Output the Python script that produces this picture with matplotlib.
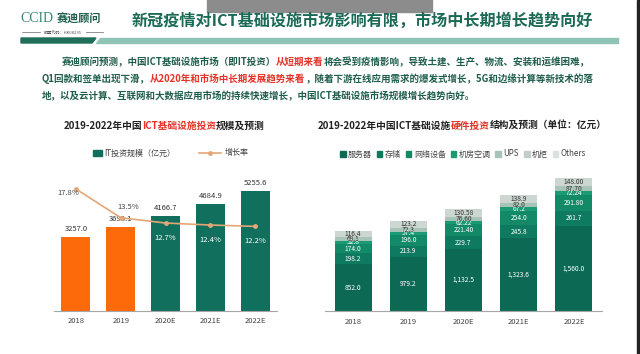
import matplotlib.pyplot as plt
from matplotlib.patches import Rectangle, Polygon, Patch
from matplotlib.lines import Line2D

plt.rcParams['font.family'] = ['Noto Sans CJK SC', 'DejaVu Sans']

W, H = 640, 354

# 左图：IT投资规模及增长率
years = ['2018', '2019', '2020E', '2021E', '2022E']
it_invest = [3257.0, 3698.1, 4166.7, 4684.9, 5255.6]
growth = [17.8, 13.5, 12.7, 12.4, 12.2]

# 右图：硬件投资结构（亿元）
legend_names = ['服务器', '存储', '网络设备', '机房空调', 'UPS', '机柜', 'Others']
server = [852.0, 979.2, 1132.5, 1323.6, 1560.0]
storage = [198.2, 213.9, 229.7, 245.8, 261.7]
network = [174.0, 196.0, 221.40, 254.0, 291.80]
aircon = [52.8, 57.4, 62.22, 67.2, 72.24]
ups = [68.1, 72.3, 76.60, 82.0, 87.70]
others = [116.4, 123.2, 130.58, 138.9, 148.00]

server_lbl = ['852.0', '979.2', '1,132.5', '1,323.6', '1,560.0']
storage_lbl = ['198.2', '213.9', '229.7', '245.8', '261.7']
network_lbl = ['174.0', '196.0', '221.40', '254.0', '291.80']
aircon_lbl = ['52.8', '57.4', '62.22', '67.2', '72.24']
ups_lbl = ['68.1', '72.3', '76.60', '82.0', '87.70']
others_lbl = ['116.4', '123.2', '130.58', '138.9', '148.00']

GREEN = '#10705d'
ORANGE = '#fd6a0a'
LINE = '#e5a677'
TITLE_GREEN = '#1b6a56'
TEXT_GREEN = '#1f5e4c'
RED = '#e5332a'

fig = plt.figure(figsize=(W / 100, H / 100), dpi=100)
fig.patch.set_facecolor('white')
renderer = fig.canvas.get_renderer()


def fx(x):
    return x / W


def fy(y):
    return 1 - y / H


def seg_text(x, y, parts, size, weight='bold', center=False):
    # 多段不同颜色的文字拼接成一行
    texts = [fig.text(0, fy(y), s, color=c, fontsize=size, fontweight=weight, va='center')
             for s, c in parts]
    widths = [t.get_window_extent(renderer).width for t in texts]
    x0 = x - sum(widths) / 2 if center else x
    for t, w in zip(texts, widths):
        t.set_x(fx(x0))
        x0 += w


# 页眉
fig.patches.append(Rectangle((fx(207), fy(12)), 225 / W, 12 / H, transform=fig.transFigure,
                             color='#8c8c8c', zorder=0))
fig.text(fx(20), fy(19), 'CCID', family='Liberation Serif', fontsize=10, color='#3d8674', va='center')
fig.text(fx(57), fy(19), '赛迪顾问', fontsize=8, fontweight='bold', color='#1d5f4d', va='center')
fig.text(fx(63), fy(32), '股票代码：HK08235', fontsize=3, color='#555555', ha='center', va='center')
fig.lines.append(Line2D([fx(22), fx(40)], [fy(32), fy(32)], transform=fig.transFigure, color='#666666', lw=0.5))
fig.lines.append(Line2D([fx(86), fx(103)], [fy(32), fy(32)], transform=fig.transFigure, color='#666666', lw=0.5))
fig.patches.append(Polygon([(fx(21), fy(38)), (fx(96), fy(38)), (fx(92), fy(43)), (fx(21), fy(43))],
                           closed=True, transform=fig.transFigure, color='#1f6e5a'))
fig.patches.append(Polygon([(fx(100), fy(38)), (fx(618), fy(38)), (fx(618), fy(42.5)), (fx(96), fy(42.5))],
                           closed=True, transform=fig.transFigure, color='#8ec3b6'))
fig.text(fx(132), fy(21), '新冠疫情对ICT基础设施市场影响有限，市场中长期增长趋势向好',
         fontsize=11.6, fontweight='bold', color=TITLE_GREEN, va='center')

# 正文段落
seg_text(62, 62, [('赛迪顾问预测，中国ICT基础设施市场（即IT投资）', TEXT_GREEN), ('从短期来看', RED),
                  ('将会受到疫情影响，导致土建、生产、物流、安装和运维困难，', TEXT_GREEN)], 6.85)
seg_text(42, 79, [('Q1回款和签单出现下滑，', TEXT_GREEN), ('从2020年和市场中长期发展趋势来看', RED),
                  ('，随着下游在线应用需求的爆发式增长，5G和边缘计算等新技术的落', TEXT_GREEN)], 6.85)
seg_text(42, 96, [('地，以及云计算、互联网和大数据应用市场的持续快速增长，中国ICT基础设施市场规模增长趋势向好。',
                   TEXT_GREEN)], 6.85)

# 图表标题
seg_text(164, 126, [('2019-2022年中国', '#222222'), ('ICT基础设施投资', RED), ('规模及预测', '#222222')],
         7, center=True)
seg_text(462, 126, [('2019-2022年中国ICT基础设施', '#222222'), ('硬件投资', RED),
                    ('结构及预测（单位：亿元）', '#222222')], 7, center=True)

# ---- 左图 ----
axL = fig.add_axes([fx(54), 43 / H, 223 / W, 141 / H])
x = range(len(years))
bar_colors = [ORANGE, ORANGE, GREEN, GREEN, GREEN]
axL.bar(x, it_invest, width=0.65, color=bar_colors)
axL.set_xlim(-0.49, 4.49)
axL.set_ylim(0, 6184)
for s in ['top', 'right', 'left']:
    axL.spines[s].set_visible(False)
axL.spines['bottom'].set_color('#a6a6a6')
axL.set_yticks([])
axL.set_xticks(list(x))
axL.set_xticklabels(years, fontsize=5.5, color='#444444')
axL.tick_params(axis='x', length=0, pad=4)
for i, v in enumerate(it_invest):
    axL.annotate(f'{v:.1f}', (i, v), xytext=(0, 4), textcoords='offset pixels',
                 ha='center', va='bottom', fontsize=5.5, color='#333333')

axT = axL.twinx()
axT.plot(list(x), growth, color=LINE, lw=1.2, marker='o', markersize=2.5)
axT.set_ylim(-0.49, 20.65)
axT.axis('off')
pct_offsets = [(-8, -4), (7, 11), (0, -15), (0, -15), (0, -15)]
pct_colors = ['#444444', '#444444', 'white', 'white', 'white']
for i, g in enumerate(growth):
    axT.annotate(f'{g:.1f}%', (i, g), xytext=pct_offsets[i], textcoords='offset pixels',
                 ha='center', va='center', fontsize=5.5, color=pct_colors[i])

# 左图图例
fig.patches.append(Rectangle((fx(93), fy(156)), 9 / W, 6 / H, transform=fig.transFigure, color=GREEN))
fig.text(fx(104), fy(153), 'IT投资规模（亿元）', fontsize=5.8, color='#444444', va='center')
fig.lines.append(Line2D([fx(199), fx(221)], [fy(153), fy(153)], transform=fig.transFigure,
                        color=LINE, lw=1.2))
fig.lines.append(Line2D([fx(210)], [fy(153)], transform=fig.transFigure, color=LINE,
                        marker='o', markersize=2.5))
fig.text(fx(225), fy(153), '增长率', fontsize=5.8, color='#444444', va='center')

# ---- 右图 ----
axR = fig.add_axes([fx(325), 43 / H, 277 / W, 141 / H])
series = [server, storage, network, aircon, ups, others]
labels = [server_lbl, storage_lbl, network_lbl, aircon_lbl, ups_lbl, others_lbl]
seg_colors = ['#0c6a54', '#0e7a5f', '#128a68', '#1b9b73', '#a8c3b7', '#ccd7d1']
lbl_colors = ['white', 'white', 'white', 'white', '#333333', '#333333']
bottom = [0.0] * len(years)
for vals, lbls, col, tc in zip(series, labels, seg_colors, lbl_colors):
    axR.bar(x, vals, width=0.67, bottom=bottom, color=col)
    for i, v in enumerate(vals):
        axR.text(i, bottom[i] + v / 2, lbls[i], ha='center', va='center', fontsize=4.8, color=tc)
    bottom = [b + v for b, v in zip(bottom, vals)]
axR.set_xlim(-0.507, 4.507)
axR.set_ylim(0, 2573)
for s in ['top', 'right', 'left']:
    axR.spines[s].set_visible(False)
axR.spines['bottom'].set_color('#a6a6a6')
axR.set_yticks([])
axR.set_xticks(list(x))
axR.set_xticklabels(years, fontsize=5.5, color='#444444')
axR.tick_params(axis='x', length=0, pad=5)

legend_colors = ['#0c6a54', '#0e7a5f', '#128a68', '#1b9b73', '#a8c3b7', '#c2cfc8', '#dbe2de']
handles = [Patch(color=c) for c in legend_colors]
fig.legend(handles, legend_names, loc='center', bbox_to_anchor=(fx(463), fy(154)), ncol=7,
           frameon=False, fontsize=5.8, handlelength=0.7, handleheight=0.7, handletextpad=0.3,
           columnspacing=0.6, labelcolor='#444444', borderpad=0)

# 右侧边框
fig.patches.append(Rectangle((fx(637), 0), 3 / W, 1, transform=fig.transFigure, color='#222222'))

fig.savefig('out.png', dpi=100)
